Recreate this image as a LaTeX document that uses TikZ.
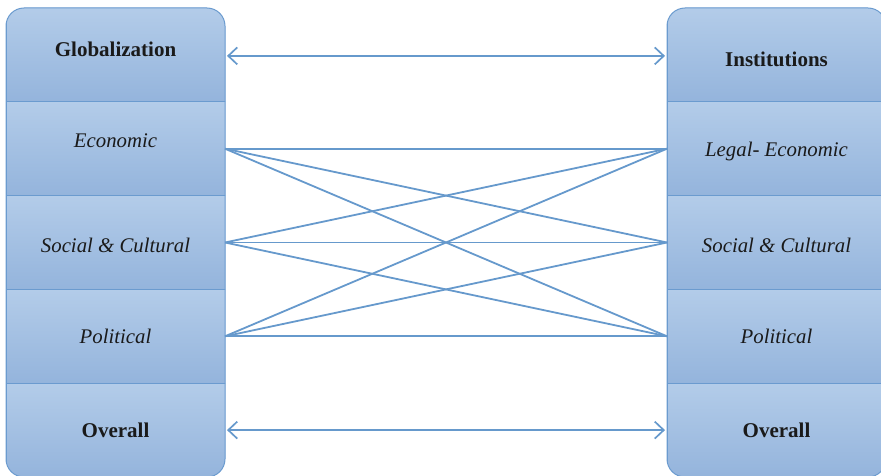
\documentclass[tikz,border=0pt]{standalone}
\usepackage{fontspec}
\setmainfont{Liberation Serif}
\usetikzlibrary{arrows.meta}
\definecolor{boxtop}{HTML}{B3CCE9}
\definecolor{boxbot}{HTML}{94B4DC}
\definecolor{edgec}{HTML}{6B9BCF}
\definecolor{linkc}{HTML}{6699CC}
\definecolor{txt}{HTML}{1A1A1A}
\begin{document}
\begin{tikzpicture}[x=1pt,y=-1pt,
  rowbox/.style={rectangle, minimum width=219pt, minimum height=93.8pt, inner sep=0pt, outer sep=0pt,
    top color=boxtop, bottom color=boxbot, draw=edgec, line width=1pt},
  headtxt/.style={font=\fontsize{21}{24}\selectfont\bfseries, text=txt, inner sep=0pt},
  itxt/.style={font=\fontsize{20.8}{24}\selectfont\itshape, text=txt, inner sep=0pt},
  linkline/.style={draw=linkc, line width=1.8pt},
  dblarrow/.style={draw=linkc, line width=1.7pt, {Straight Barb[length=9pt,width=17pt,line width=1.7pt]}-{Straight Barb[length=9pt,width=17pt,line width=1.7pt]}}
]
\useasboundingbox (0,0) rectangle (881,476);
% left column
\begin{scope}
  \clip[rounded corners=18pt] (6,8) rectangle (225,477);
  \node[rowbox] (L1) at (115.5,54.9) {};
  \node[rowbox] (L2) at (115.5,148.7) {};
  \node[rowbox] (L3) at (115.5,242.5) {};
  \node[rowbox] (L4) at (115.5,336.3) {};
  \node[rowbox] (L5) at (115.5,430.1) {};
\end{scope}
\draw[edgec, line width=1pt, rounded corners=18pt] (6,8) rectangle (225,477);
% right column
\begin{scope}
  \clip[rounded corners=18pt] (667,8) rectangle (886,477);
  \node[rowbox] (R1) at (776.5,54.9) {};
  \node[rowbox] (R2) at (776.5,148.7) {};
  \node[rowbox] (R3) at (776.5,242.5) {};
  \node[rowbox] (R4) at (776.5,336.3) {};
  \node[rowbox] (R5) at (776.5,430.1) {};
\end{scope}
\draw[edgec, line width=1pt, rounded corners=18pt] (667,8) rectangle (886,477);
% texts
\node[headtxt] (tL1) at ([yshift=6pt]L1.center) {Globalization};
\node[itxt] (tL2) at ([yshift=7.5pt]L2.center) {Economic};
\node[itxt] (tL3) at ([yshift=-2.5pt]L3.center) {Social \& Cultural};
\node[itxt] (tL4) at ([yshift=-0.5pt]L4.center) {Political};
\node[headtxt] (tL5) at (L5.center) {Overall};
\node[headtxt] (tR1) at ([yshift=-4pt]R1.center) {Institutions};
\node[itxt] (tR2) at ([yshift=-2.3pt]R2.center) {Legal- Economic};
\node[itxt] (tR3) at ([yshift=-2.5pt]R3.center) {Social \& Cultural};
\node[itxt] (tR4) at ([yshift=-0.5pt]R4.center) {Political};
\node[headtxt] (tR5) at (R5.center) {Overall};
% connectors
\foreach \i in {2,3,4}{
  \foreach \j in {2,3,4}{
    \draw[linkline] (L\i.east) -- (R\j.west);
  }
}
\draw[dblarrow] ([xshift=2pt,yshift=-1pt]L1.east) -- ([xshift=-2pt,yshift=-1pt]R1.west);
\draw[dblarrow] ([xshift=2pt]L5.east) -- ([xshift=-2pt]R5.west);
\end{tikzpicture}
\end{document}
